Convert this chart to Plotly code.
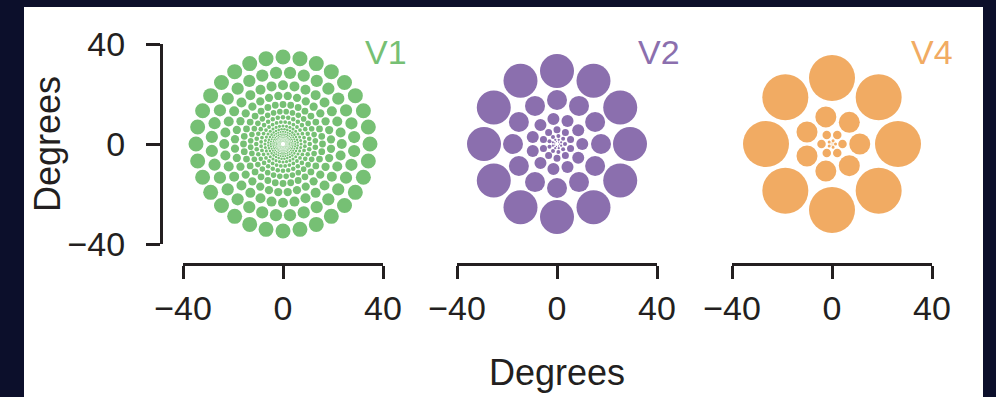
import math
import plotly.graph_objects as go

# ---------------- data ----------------
AREAS = ["V1", "V2", "V4"]
COLORS = ["#76c074", "#8b6fae", "#f1ab63"]

# V1 receptive fields: ring eccentricity (deg), RF radius (deg), count, phase (deg)
V1_ECC = [34.8, 28.6, 23.5, 19.3, 15.8, 13.0, 10.7, 8.8, 7.2, 5.9, 4.9, 4.0, 3.3, 2.7, 2.2, 1.8, 1.5, 1.2, 1.0]
V1_RAD = [3.0, 2.45, 2.0, 1.65, 1.36, 1.12, 0.92, 0.76, 0.62, 0.51, 0.42, 0.34, 0.28, 0.23, 0.19, 0.155, 0.13, 0.10, 0.085]
V1_COUNT = [32, 32, 32, 32, 32, 32, 32, 32, 32, 32, 32, 32, 32, 32, 32, 32, 32, 32, 32]
V1_PHASE = [0, 5.6, 0, 5.6, 0, 5.6, 0, 5.6, 0, 5.6, 0, 5.6, 0, 5.6, 0, 5.6, 0, 5.6, 0]

# V2 receptive fields
V2_ECC = [29.2, 17.6, 10.1, 5.7, 3.2, 1.8, 1.0]
V2_RAD = [6.8, 4.0, 2.4, 1.4, 0.8, 0.45, 0.25]
V2_COUNT = [12, 12, 11, 10, 9, 8, 7]
V2_PHASE = [0, 0, 0, 18, 0, 22.5, 0]

# V4 receptive fields
V4_ECC = [26.4, 11.1, 4.2, 1.4, 0.5]
V4_RAD = [9.2, 4.2, 1.7, 0.6, 0.2]
V4_COUNT = [8, 7, 6, 5, 4]
V4_PHASE = [0, 0, 0, 0, 45]

TICK_VALS = [-40, 0, 40]
TICK_TEXT = ["\u221240", "0", "40"]
AXIS_TITLE = "Degrees"

RINGS = [
    (V1_ECC, V1_RAD, V1_COUNT, V1_PHASE),
    (V2_ECC, V2_RAD, V2_COUNT, V2_PHASE),
    (V4_ECC, V4_RAD, V4_COUNT, V4_PHASE),
]

# ---------------- layout geometry ----------------
W, H = 996, 397
INK = "#231f20"
FONT = "Liberation Sans, Arial, Helvetica, sans-serif"


def px(x):
    return x / W


def py(y):
    return 1 - y / H


X_DOMAINS = [(183, 383), (457, 657), (732, 932)]
Y_DOMAIN = (244, 44)
XAXIS_Y = 264
YAXIS_X = 161
LABEL_X = [363, 636, 909]

fig = go.Figure()

shapes = [
    dict(type="rect", xref="paper", yref="paper",
         x0=px(24), x1=px(983), y0=-0.02, y1=py(7),
         fillcolor="white", line=dict(width=0), layer="below"),
]

for k, (ecc, rad, cnt, ph) in enumerate(RINGS):
    suffix = "" if k == 0 else str(k + 1)
    for e, r, n, p in zip(ecc, rad, cnt, ph):
        for j in range(n):
            th = math.radians(p + 360.0 * j / n)
            cx, cy = e * math.cos(th), e * math.sin(th)
            shapes.append(dict(
                type="circle", xref="x" + suffix, yref="y" + suffix,
                x0=cx - r, x1=cx + r, y0=cy - r, y1=cy + r,
                fillcolor=COLORS[k], line=dict(width=0), layer="above"))

axis_common = dict(range=[-40, 40], showgrid=False, zeroline=False,
                   fixedrange=True, automargin=False)

layout = dict(
    width=W, height=H,
    margin=dict(l=0, r=0, t=0, b=0),
    paper_bgcolor="#0c0f2b",
    plot_bgcolor="rgba(0,0,0,0)",
    showlegend=False,
    shapes=shapes,
    font=dict(family=FONT, color=INK),
)

for k in range(3):
    suffix = "" if k == 0 else str(k + 1)
    x0, x1 = X_DOMAINS[k]
    layout["xaxis" + suffix] = dict(
        axis_common, domain=[px(x0), px(x1)], anchor="free", position=py(XAXIS_Y),
        showline=True, linewidth=3, linecolor=INK,
        ticks="outside", ticklen=13, tickwidth=3, tickcolor=INK,
        tickvals=TICK_VALS, ticktext=TICK_TEXT, ticklabelstandoff=0,
        tickfont=dict(size=34, color=INK, family=FONT))
    ydict = dict(axis_common, domain=[py(Y_DOMAIN[0]), py(Y_DOMAIN[1])])
    if k == 0:
        ydict.update(anchor="free", position=px(YAXIS_X),
                     showline=True, linewidth=3, linecolor=INK,
                     ticks="outside", ticklen=14, tickwidth=3, tickcolor=INK,
                     tickvals=TICK_VALS, ticktext=TICK_TEXT, ticklabelstandoff=14,
                     tickfont=dict(size=34, color=INK, family=FONT))
    else:
        ydict.update(visible=False, anchor="x" + suffix)
    layout["yaxis" + suffix] = ydict

annotations = []
for k, name in enumerate(AREAS):
    annotations.append(dict(
        text=name, xref="paper", yref="paper", x=px(LABEL_X[k]), y=py(52),
        xanchor="left", yanchor="middle", showarrow=False,
        font=dict(size=34, color=COLORS[k], family=FONT)))
annotations.append(dict(
    text=AXIS_TITLE, xref="paper", yref="paper", x=px(557), y=py(372),
    xanchor="center", yanchor="middle", showarrow=False,
    font=dict(size=36, color=INK, family=FONT)))
annotations.append(dict(
    text=AXIS_TITLE, xref="paper", yref="paper", x=px(47), y=py(144),
    xanchor="center", yanchor="middle", showarrow=False, textangle=-90,
    font=dict(size=36, color=INK, family=FONT)))
layout["annotations"] = annotations

fig.update_layout(**layout)
fig.write_html(
    "out.html",
    config={"displayModeBar": False},
    post_script="document.body.style.margin='0';document.body.style.padding='0';"
                "document.documentElement.style.background='#0c0f2b';",
)
